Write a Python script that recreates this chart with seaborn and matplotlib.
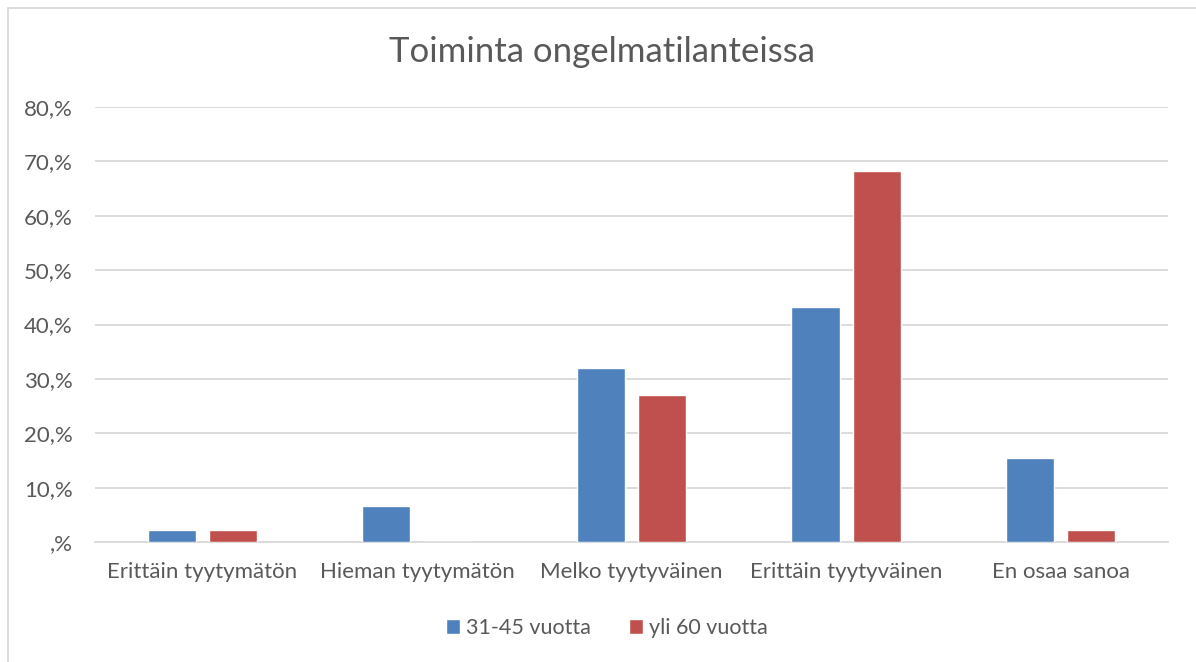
import matplotlib
matplotlib.use("Agg")
import matplotlib.pyplot as plt
from matplotlib.patches import Rectangle
import seaborn as sns
import pandas as pd

# Data (percent)
categories = ["Erittäin tyytymätön", "Hieman tyytymätön", "Melko tyytyväinen",
              "Erittäin tyytyväinen", "En osaa sanoa"]
series_names = ["31-45 vuotta", "yli 60 vuotta"]
values_31_45 = [2.2, 6.7, 32.1, 43.2, 15.5]
values_yli_60 = [2.3, 0.0, 27.1, 68.2, 2.3]
yticks = [0, 10, 20, 30, 40, 50, 60, 70, 80]
ytick_labels = [",%", "10,%", "20,%", "30,%", "40,%", "50,%", "60,%", "70,%", "80,%"]

colors = {"31-45 vuotta": "#4F81BD", "yli 60 vuotta": "#C0504D"}
text_color = "#595959"
grid_color = "#D9D9D9"

df = pd.concat([
    pd.DataFrame({"Vastaus": categories, "Osuus": values_31_45, "Ikä": series_names[0]}),
    pd.DataFrame({"Vastaus": categories, "Osuus": values_yli_60, "Ikä": series_names[1]}),
])

sns.set_theme(style="white")
plt.rcParams["font.family"] = ["Lato", "DejaVu Sans"]

W, H = 1196, 662
fig = plt.figure(figsize=(W / 100, H / 100), dpi=100)
ax = fig.add_axes([95 / W, 1 - 542.3 / H, (1168 - 95) / W, (542.3 - 106.7) / H])

sns.barplot(data=df, x="Vastaus", y="Osuus", hue="Ikä", order=categories,
            hue_order=series_names, palette=colors, width=0.57, gap=0.21,
            saturation=1, ax=ax, zorder=3)

ax.set_ylim(0, 80)
ax.set_xlim(-0.5, len(categories) - 0.5)
ax.set_yticks(yticks)
ax.set_yticklabels(ytick_labels)
ax.yaxis.grid(True, color=grid_color, linewidth=1.3, zorder=0)
ax.set_axisbelow(True)
for s in ["top", "right", "left"]:
    ax.spines[s].set_visible(False)
ax.spines["bottom"].set_color(grid_color)
ax.spines["bottom"].set_linewidth(1.3)
ax.tick_params(axis="both", length=0, colors=text_color, labelsize=16)
ax.tick_params(axis="y", pad=16)
ax.tick_params(axis="x", pad=14)
ax.set_xlabel("")
ax.set_ylabel("")

fig.text(602 / W, 1 - 52 / H, "Toiminta ongelmatilanteissa", ha="center", va="center",
         fontsize=25, color=text_color)

ax.legend(loc="center", bbox_to_anchor=(607 / W, 1 - 628 / H),
          bbox_transform=fig.transFigure, ncol=2, frameon=False, fontsize=15.5,
          handlelength=0.65, handleheight=0.65, handletextpad=0.25, columnspacing=1.8,
          labelcolor=text_color)

# light frame around the chart
fig.patches.append(Rectangle((7.5 / W, -0.01), 1.1, 1 - 7.5 / H + 0.01,
                             transform=fig.transFigure, fill=False,
                             edgecolor=grid_color, linewidth=1.3))

fig.savefig("out.png", dpi=100, facecolor="white")
